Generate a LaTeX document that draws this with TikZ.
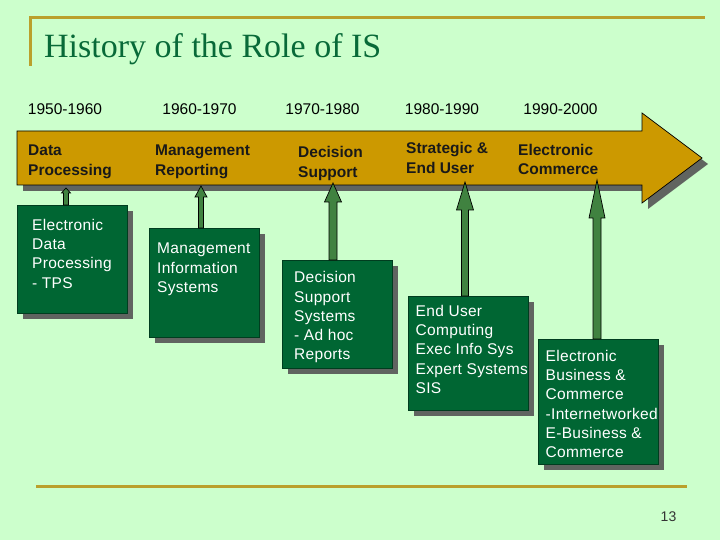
\documentclass[tikz,border=0pt]{standalone}
\usepackage{fontspec}
\setmainfont{Liberation Sans}
\newfontfamily\titlefont{Liberation Serif}
\newfontfamily\boxfont[LetterSpace=2]{Liberation Sans}
\usetikzlibrary{calc,shadows}
\usepackage{xcolor}

\definecolor{slidebg}{RGB}{204,255,204}
\definecolor{rulegold}{RGB}{186,160,44}
\definecolor{bannergold}{RGB}{204,153,0}
\definecolor{boxgreen}{RGB}{0,102,51}
\definecolor{titlegreen}{RGB}{8,106,56}
\definecolor{risergreen}{RGB}{64,130,64}
\definecolor{shadowgray}{RGB}{96,100,96}

\tikzset{
  era/.style={font=\fontsize{15.5}{19}\selectfont, inner sep=0},
  stage/.style={font=\fontsize{15.5}{19.2}\selectfont\bfseries, text=black!90,
    align=left, anchor=north west, inner sep=0},
  isshadow/.style={drop shadow={shadow xshift=6pt, shadow yshift=-6pt,
    fill=shadowgray, opacity=1}},
  isbox/.style={draw=boxgreen!60!black, fill=boxgreen, isshadow,
    minimum width=110pt, minimum height=108pt, anchor=north west, inner sep=0},
  boxtext/.style={font=\boxfont\fontsize{15.5}{19.2}\selectfont, text=white,
    align=left, anchor=north west, inner sep=0},
  riser/.style={draw=black, fill=risergreen, line width=0.7pt, line join=miter}
}

% block arrow from the top of box #2 up to tip #1
% #3 head length, #4 half head width, #5 half shaft width
\newcommand{\isarrow}[5]{%
  \draw[riser] ($(#1 |- #2.north)+(-#5,0)$) -- ($(#1)+(-#5,#3)$)
    -- ($(#1)+(-#4,#3)$) -- (#1) -- ($(#1)+(#4,#3)$)
    -- ($(#1)+(#5,#3)$) -- ($(#1 |- #2.north)+(#5,0)$) -- cycle;}

\begin{document}
\begin{tikzpicture}[x=1pt, y=-1pt]

  % slide background
  \fill[slidebg] (0,0) rectangle (720,540);
  \useasboundingbox (0,0) rectangle (720,540);

  % title and rules
  \draw[rulegold, line width=3pt] (29,17.8) -- (705,17.8);
  \draw[rulegold, line width=3pt] (30.5,16.5) -- (30.5,66.5);
  \node[font=\titlefont\fontsize{34}{36}\selectfont, text=titlegreen,
    anchor=base west, inner sep=0] (title) at (44,58) {History of the Role of IS};
  \draw[rulegold, line width=3pt] (36,486.5) -- (687,486.5);
  \node[font=\fontsize{14}{16}\selectfont, text=black!80, inner sep=0] (page) at (668.5,517) {13};

  % decades
  \node[era] (y1) at (65,109.5) {1950-1960};
  \node[era] (y2) at (199.5,109.5) {1960-1970};
  \node[era] (y3) at (322.5,109.5) {1970-1980};
  \node[era] (y4) at (442,109.5) {1980-1990};
  \node[era] (y5) at (560.5,109.5) {1990-2000};

  % timeline banner
  \draw[fill=bannergold, line width=0.7pt, isshadow]
    (17,131) -- (642,131) -- (642,113) -- (702,158) -- (642,203)
    -- (642,185) -- (17,185) -- cycle;
  \node[stage] (dp) at (28,145) {Data\\Processing};
  \node[stage] (mr) at (155,145) {Management\\Reporting};
  \node[stage] (ds) at (298,146.5) {Decision\\Support};
  \node[stage] (se) at (406,142.5) {Strategic \&\\End User};
  \node[stage] (ec) at (518,144) {Electronic\\Commerce};

  % systems of each era
  \node[isbox] (b1) at (17,205) {};
  \node[isbox, minimum height=109pt] (b2) at (149,228) {};
  \node[isbox] (b3) at (282,260) {};
  \node[isbox, minimum width=120pt, minimum height=114pt] (b4) at (408,296) {};
  \node[isbox, minimum width=120pt, minimum height=125pt] (b5) at (538,339) {};

  \node[boxtext] (t1) at (32,219) {Electronic\\Data\\Processing\\- TPS};
  \node[boxtext] (t2) at (157,243) {Management\\Information\\Systems};
  \node[boxtext] (t3) at (294,271.5) {Decision\\Support\\Systems\\- Ad hoc\\Reports};
  \node[boxtext] (t4) at (415.5,305) {End User\\Computing\\Exec Info Sys\\Expert Systems\\SIS};
  \node[boxtext] (t5) at (545.5,350) {Electronic\\Business \&\\Commerce\\-Internetworked\\E-Business \&\\Commerce};

  % arrows up to the banner
  \coordinate (tip1) at (66,188);
  \coordinate (tip2) at (201,186);
  \coordinate (tip3) at (333,183);
  \coordinate (tip4) at (465,182);
  \coordinate (tip5) at (597,180);
  \isarrow{tip1}{b1}{5}{4.5}{2.5}
  \isarrow{tip2}{b2}{11}{6}{2.5}
  \isarrow{tip3}{b3}{19}{8.5}{4}
  \isarrow{tip4}{b4}{28}{8.5}{3.5}
  \isarrow{tip5}{b5}{38}{8}{4}

\end{tikzpicture}
\end{document}
